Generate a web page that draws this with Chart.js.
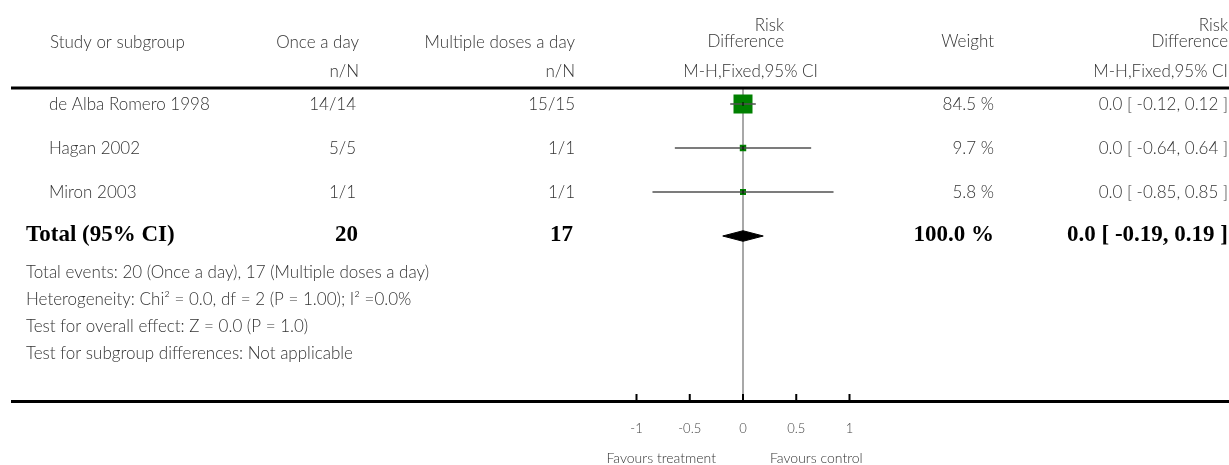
<!DOCTYPE html>
<html>
<head>
<meta charset="utf-8">
<script src="https://cdn.jsdelivr.net/npm/chart.js@4.4.1/dist/chart.umd.min.js"></script>
<style>
  html, body { margin: 0; padding: 0; background: #fff; }
  #forest { display: block; }
</style>
</head>
<body>
<canvas id="forest" width="1229" height="465"></canvas>
<script>
'use strict';

// ---- data ----
var studies = ['de Alba Romero 1998', 'Hagan 2002', 'Miron 2003'];
var onceEvents = ['14/14', '5/5', '1/1'];
var multiEvents = ['15/15', '1/1', '1/1'];
var weights = [84.5, 9.7, 5.8];
var estimates = [0.0, 0.0, 0.0];
var ciLow = [-0.12, -0.64, -0.85];
var ciHigh = [0.12, 0.64, 0.85];

var totalOnce = 20;
var totalMulti = 17;
var totalWeight = 100.0;
var totalEst = 0.0;
var totalLow = -0.19;
var totalHigh = 0.19;

var axisTicks = [-1, -0.5, 0, 0.5, 1];

var footnotes = [
    'Total events: 20 (Once a day), 17 (Multiple doses a day)',
    'Heterogeneity: Chi\u00b2 = 0.0, df = 2 (P = 1.00); I\u00b2 =0.0%',
    'Test for overall effect: Z = 0.0 (P = 1.0)',
    'Test for subgroup differences: Not applicable'
];

// ---- styling ----
var SANS = 'Lato, "Open Sans", sans-serif';
var SERIF = '"Liberation Serif", "Times New Roman", serif';
var TEXT = '#333';
var totalRow = studies.length;

var fmtCI = function(est, lo, hi) {
    return est.toFixed(1) + ' [ ' + lo.toFixed(2) + ', ' + hi.toFixed(2) + ' ]';
};

var squareSide = function(w) {
    return Math.max(6, 19 * Math.sqrt(w / weights[0]));
};

var text = function(ctx, str, x, y, align, font, color) {
    ctx.font = font;
    ctx.fillStyle = color || TEXT;
    ctx.textAlign = align;
    ctx.textBaseline = 'middle';
    ctx.fillText(str, x, y);
};

var forestTable = {
    id: 'forestTable',
    afterDraw: function(chart) {
        var ctx = chart.ctx;
        var xs = chart.scales.x;
        var ys = chart.scales.y;
        var area = chart.chartArea;
        var reg = '300 17px ' + SANS;
        var bold = 'bold 23px ' + SERIF;

        ctx.save();

        // header
        text(ctx, 'Study or subgroup', 50, 43, 'left', reg);
        text(ctx, 'Once a day', 359, 43, 'right', reg);
        text(ctx, 'n/N', 359, 72, 'right', reg);
        text(ctx, 'Multiple doses a day', 575, 43, 'right', reg);
        text(ctx, 'n/N', 575, 72, 'right', reg);
        text(ctx, 'Risk', 784, 26, 'right', reg);
        text(ctx, 'Difference', 784, 42, 'right', reg);
        text(ctx, 'M-H,Fixed,95% CI', 818, 72, 'right', reg);
        text(ctx, 'Weight', 994, 42, 'right', reg);
        text(ctx, 'Risk', 1228, 26, 'right', reg);
        text(ctx, 'Difference', 1228, 42, 'right', reg);
        text(ctx, 'M-H,Fixed,95% CI', 1228, 72, 'right', reg);

        // rules
        ctx.fillStyle = '#000';
        ctx.fillRect(11, area.top - 1.5, 1218, 3);
        ctx.fillRect(11, area.bottom - 1, 1218, 3);

        // tick marks sit above the bottom rule
        axisTicks.forEach(function(v) {
            var px = xs.getPixelForValue(v);
            ctx.fillRect(px - 1, area.bottom - 7, 2, 7);
        });

        // study rows
        studies.forEach(function(name, i) {
            var y = ys.getPixelForValue(i) + 1;
            text(ctx, name, 49, y, 'left', reg);
            text(ctx, onceEvents[i], 356, y, 'right', reg);
            text(ctx, multiEvents[i], 575, y, 'right', reg);
            text(ctx, weights[i].toFixed(1) + ' %', 994, y, 'right', reg);
            text(ctx, fmtCI(estimates[i], ciLow[i], ciHigh[i]), 1228, y, 'right', reg);
        });

        // total row
        var ty = ys.getPixelForValue(totalRow) - 1;
        text(ctx, 'Total (95% CI)', 26, ty, 'left', bold, '#000');
        text(ctx, String(totalOnce), 358, ty, 'right', bold, '#000');
        text(ctx, String(totalMulti), 573, ty, 'right', bold, '#000');
        text(ctx, totalWeight.toFixed(1) + ' %', 994, ty, 'right', bold, '#000');
        text(ctx, fmtCI(totalEst, totalLow, totalHigh), 1228, ty, 'right', bold, '#000');

        // footnotes
        footnotes.forEach(function(line, k) {
            text(ctx, line, 26, ty + 38 + k * 26.7, 'left', reg);
        });

        // favours labels
        var zero = xs.getPixelForValue(0);
        text(ctx, 'Favours treatment', zero - 27, 458, 'right', '300 14px ' + SANS);
        text(ctx, 'Favours control', zero + 27, 458, 'left', '300 14px ' + SANS);

        ctx.restore();
    }
};

var whiskers = studies.map(function(name, i) {
    return {
        type: 'scatter',
        label: name + ' CI',
        data: [{ x: ciLow[i], y: i }, { x: ciHigh[i], y: i }],
        showLine: true,
        borderColor: '#505050',
        borderWidth: 1.5,
        pointRadius: 0,
        order: 1
    };
});

var datasets = whiskers.concat([
    {
        type: 'scatter',
        label: 'Weight',
        data: studies.map(function(name, i) { return { x: estimates[i], y: i }; }),
        pointStyle: 'rect',
        pointRadius: weights.map(function(w) { return squareSide(w) / Math.SQRT2; }),
        backgroundColor: '#008000',
        borderWidth: 0,
        order: 3
    },
    {
        type: 'scatter',
        label: 'Estimate',
        data: studies.map(function(name, i) { return { x: estimates[i], y: i }; }),
        pointStyle: 'line',
        rotation: 90,
        pointRadius: 2,
        borderColor: '#000',
        borderWidth: 1,
        order: 0
    },
    {
        type: 'scatter',
        label: 'Total',
        data: [
            { x: totalLow, y: totalRow },
            { x: totalEst, y: totalRow - 0.12 },
            { x: totalHigh, y: totalRow },
            { x: totalEst, y: totalRow + 0.12 },
            { x: totalLow, y: totalRow }
        ],
        showLine: true,
        fill: 'shape',
        tension: 0,
        borderColor: '#000',
        backgroundColor: '#000',
        borderWidth: 1,
        pointRadius: 0,
        order: 2
    }
]);

new Chart(document.getElementById('forest'), {
    type: 'scatter',
    data: { datasets: datasets },
    options: {
        responsive: false,
        animation: false,
        devicePixelRatio: 1,
        layout: { padding: { left: 636.5, right: 379.5, top: 88, bottom: 0 } },
        plugins: {
            legend: { display: false },
            tooltip: { enabled: false }
        },
        scales: {
            x: {
                type: 'linear',
                min: -1,
                max: 1,
                afterBuildTicks: function(scale) {
                    scale.ticks = axisTicks.map(function(v) { return { value: v }; });
                },
                afterFit: function(scale) { scale.height = 64; },
                border: { display: false },
                grid: {
                    drawTicks: false,
                    lineWidth: 2,
                    color: function(c) {
                        return c.tick && c.tick.value === 0 ? '#a8a8a8' : 'rgba(0,0,0,0)';
                    }
                },
                ticks: {
                    padding: 20,
                    color: '#444',
                    font: { family: SANS, size: 13, weight: '300' },
                    callback: function(v) { return String(v); }
                }
            },
            y: {
                type: 'linear',
                display: false,
                reverse: true,
                min: -0.364,
                max: 6.75
            }
        }
    },
    plugins: [forestTable]
});
</script>
</body>
</html>
